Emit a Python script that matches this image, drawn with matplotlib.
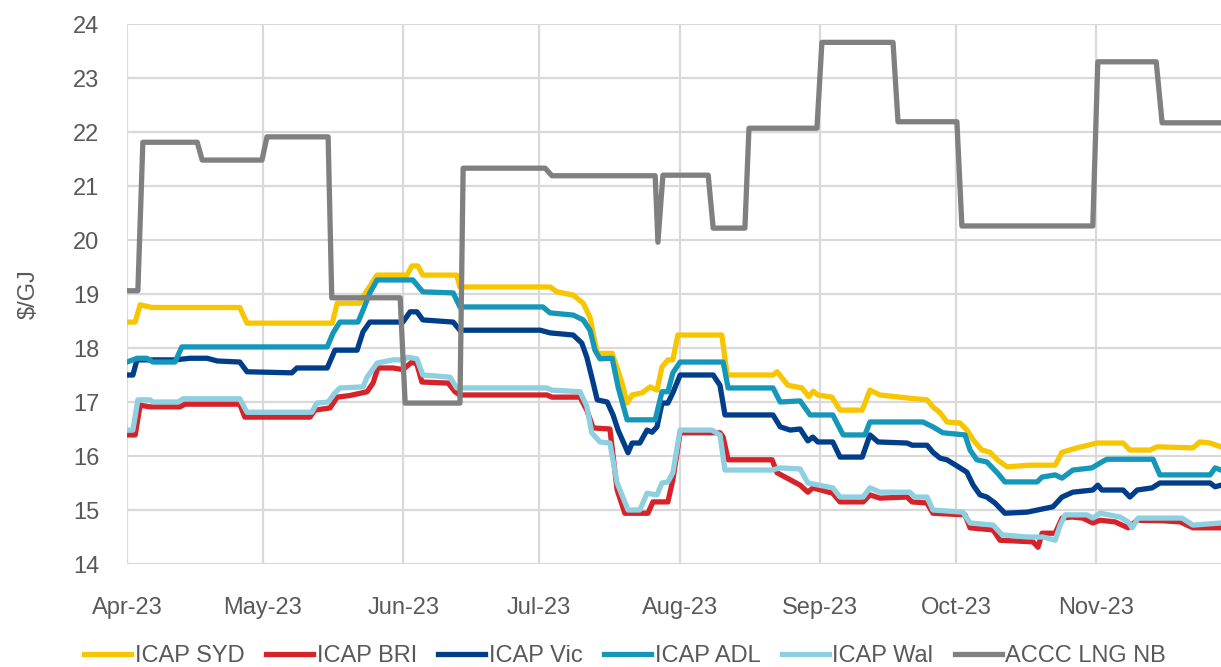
import matplotlib
matplotlib.use("Agg")
import matplotlib.pyplot as plt
import matplotlib.dates as mdates
import numpy as np
import pandas as pd

# %% Data (days since 1 Apr 2023, $/GJ)
START = pd.Timestamp("2023-04-01")

syd_days = [0, 1.8, 2.9, 5.5, 24.9, 26.5, 45.3, 46.4, 51.4, 52.5, 55.2, 61.8, 62.9, 64.2, 65.3,
            72.8, 73.5, 93.4, 94.9, 98.5, 100.7, 102.2, 103.8, 107.1, 109.3, 110.4, 111.5, 113.7,
            115.5, 117.0, 118.1, 119.4, 120.5, 121.6, 131.3, 132.5, 142.6, 143.5, 145.9, 149.0,
            150.5, 151.5, 152.5, 155.6, 157.4, 162.3, 164.0, 166.2, 172.8, 176.6, 177.9, 179.5,
            181.0, 183.9, 185.4, 186.8, 188.7, 190.5, 192.1, 194.3, 199.3, 204.9, 206.4, 209.7,
            214.1, 219.9, 221.4, 225.8, 227.4, 235.3, 236.8, 239.1, 241.5]
syd_vals = [18.48, 18.48, 18.8, 18.75, 18.75, 18.46, 18.46, 18.83, 18.83, 19.0, 19.35, 19.35, 19.52,
            19.52, 19.35, 19.35, 19.13, 19.13, 19.04, 18.98, 18.83, 18.57, 17.9, 17.9, 17.35, 16.98,
            17.13, 17.17, 17.28, 17.22, 17.65, 17.78, 17.78, 18.24, 18.24, 17.5, 17.5, 17.56, 17.31,
            17.26, 17.1, 17.2, 17.13, 17.09, 16.85, 16.85, 17.22, 17.13, 17.07, 17.04, 16.91, 16.8,
            16.63, 16.61, 16.48, 16.3, 16.11, 16.07, 15.93, 15.8, 15.83, 15.83, 16.07, 16.15, 16.24,
            16.24, 16.11, 16.11, 16.17, 16.15, 16.26, 16.24, 16.17]

bri_days = [0, 1.8, 2.9, 5.1, 11.7, 12.8, 24.9, 26.0, 40.4, 41.5, 44.8, 46.4, 49.2, 53.0, 54.3,
            55.4, 58.7, 60.9, 62.9, 64.0, 65.1, 70.9, 72.4, 73.5, 92.7, 93.8, 100.0, 101.5, 102.9,
            106.6, 108.2, 109.9, 115.0, 116.1, 119.4, 120.5, 122.1, 130.9, 131.6, 132.7, 142.4,
            143.5, 148.6, 150.3, 151.4, 155.8, 157.4, 162.5, 164.0, 166.2, 172.2, 173.3, 176.6,
            177.9, 185.0, 186.1, 191.2, 192.7, 200.0, 201.1, 202.0, 204.9, 206.4, 208.6, 211.0,
            213.2, 214.8, 218.1, 221.0, 223.0, 228.7, 232.5, 235.3, 241.5]
bri_vals = [16.39, 16.39, 16.94, 16.91, 16.91, 16.96, 16.96, 16.72, 16.72, 16.85, 16.89, 17.09,
            17.12, 17.19, 17.35, 17.63, 17.63, 17.6, 17.74, 17.7, 17.37, 17.35, 17.19, 17.13, 17.13,
            17.09, 17.09, 16.85, 16.52, 16.5, 15.37, 14.94, 14.94, 15.15, 15.15, 15.56, 16.43, 16.43,
            16.35, 15.93, 15.93, 15.69, 15.46, 15.33, 15.41, 15.31, 15.15, 15.15, 15.28, 15.22,
            15.24, 15.15, 15.13, 14.94, 14.91, 14.67, 14.63, 14.44, 14.41, 14.31, 14.57, 14.57,
            14.85, 14.87, 14.85, 14.76, 14.81, 14.78, 14.67, 14.81, 14.8, 14.78, 14.67, 14.67]

vic_days = [0, 1.3, 2.2, 10.6, 13.9, 17.7, 19.9, 24.9, 26.5, 36.4, 37.5, 44.2, 45.9, 50.8, 52.1,
            53.6, 60.9, 62.5, 64.0, 65.3, 72.0, 73.5, 91.2, 93.4, 98.5, 100.4, 101.5, 102.6, 103.8,
            106.0, 107.3, 108.4, 110.6, 111.5, 113.2, 114.8, 115.9, 117.0, 118.1, 119.4, 120.5,
            122.1, 129.4, 130.9, 132.0, 142.6, 144.2, 146.4, 148.6, 150.3, 151.4, 152.5, 155.8,
            157.4, 162.3, 164.0, 165.8, 172.2, 173.3, 176.6, 177.9, 179.5, 181.0, 183.9, 185.4,
            186.8, 188.3, 189.8, 191.6, 193.8, 198.7, 204.4, 206.4, 208.8, 213.2, 214.3, 215.2,
            219.9, 221.4, 223.0, 226.3, 228.0, 239.1, 240.2, 241.5]
vic_vals = [17.5, 17.5, 17.78, 17.78, 17.81, 17.81, 17.76, 17.74, 17.56, 17.54, 17.63, 17.63, 17.96,
            17.96, 18.3, 18.48, 18.48, 18.67, 18.67, 18.52, 18.48, 18.33, 18.33, 18.28, 18.24, 18.09,
            17.83, 17.46, 17.04, 17.0, 16.76, 16.48, 16.06, 16.24, 16.24, 16.48, 16.44, 16.54, 16.98,
            16.98, 17.17, 17.5, 17.5, 17.31, 16.76, 16.76, 16.54, 16.48, 16.5, 16.28, 16.35, 16.26,
            16.26, 15.98, 15.98, 16.39, 16.26, 16.24, 16.2, 16.2, 16.07, 15.96, 15.93, 15.78, 15.7,
            15.46, 15.28, 15.24, 15.13, 14.94, 14.96, 15.06, 15.24, 15.33, 15.37, 15.46, 15.37, 15.37,
            15.24, 15.37, 15.41, 15.5, 15.5, 15.43, 15.46]

adl_days = [0, 2.2, 4.4, 5.7, 10.6, 12.1, 44.2, 45.5, 47.0, 51.0, 52.1, 53.6, 55.2, 63.1, 65.3,
            72.0, 73.5, 91.8, 93.4, 98.5, 100.7, 102.2, 103.3, 104.4, 107.1, 108.4, 110.4, 116.6,
            118.1, 119.4, 120.5, 122.1, 131.6, 132.7, 142.6, 144.2, 148.6, 150.8, 155.8, 158.1,
            162.9, 164.0, 175.7, 177.9, 180.1, 185.0, 186.1, 187.6, 189.8, 192.1, 193.8, 200.9,
            202.0, 204.9, 206.4, 208.8, 213.0, 215.2, 216.3, 226.5, 228.0, 239.1, 240.2, 241.5]
adl_vals = [17.74, 17.81, 17.81, 17.74, 17.74, 18.02, 18.02, 18.28, 18.48, 18.48, 18.7, 19.02, 19.26,
            19.26, 19.04, 19.02, 18.76, 18.76, 18.65, 18.61, 18.52, 18.33, 17.96, 17.8, 17.81, 17.28,
            16.67, 16.67, 17.19, 17.19, 17.54, 17.74, 17.74, 17.26, 17.26, 17.0, 17.02, 16.76, 16.76,
            16.39, 16.39, 16.63, 16.63, 16.54, 16.43, 16.39, 16.11, 15.93, 15.89, 15.69, 15.52,
            15.52, 15.61, 15.65, 15.59, 15.74, 15.78, 15.89, 15.94, 15.94, 15.65, 15.65, 15.78, 15.74]

wal_days = [0, 1.3, 2.4, 5.1, 5.7, 11.3, 12.4, 24.9, 26.5, 40.8, 41.9, 44.4, 45.9, 47.0, 52.1,
            53.0, 55.2, 58.7, 60.9, 62.0, 64.0, 65.3, 71.3, 72.8, 92.7, 93.8, 100.0, 101.5, 102.6,
            104.4, 106.6, 108.2, 110.6, 113.2, 114.8, 117.0, 118.1, 119.4, 120.5, 122.1, 129.1,
            130.9, 132.0, 142.4, 144.2, 148.6, 150.3, 155.8, 157.4, 162.5, 164.0, 166.2, 172.8,
            173.9, 176.6, 177.9, 184.5, 186.1, 191.2, 193.2, 198.7, 202.2, 204.9, 206.0, 207.1,
            211.9, 213.2, 214.8, 219.2, 221.0, 221.9, 223.2, 232.9, 235.3, 241.5]
wal_vals = [16.48, 16.48, 17.04, 17.04, 17.0, 17.0, 17.06, 17.06, 16.81, 16.81, 16.98, 17.0, 17.17,
            17.26, 17.28, 17.46, 17.72, 17.78, 17.78, 17.83, 17.8, 17.5, 17.46, 17.26, 17.26, 17.22,
            17.19, 16.92, 16.43, 16.26, 16.24, 15.5, 15.0, 15.0, 15.31, 15.28, 15.5, 15.52, 15.69,
            16.48, 16.48, 16.39, 15.74, 15.74, 15.78, 15.76, 15.5, 15.41, 15.24, 15.24, 15.41, 15.33,
            15.33, 15.24, 15.24, 15.0, 14.96, 14.76, 14.72, 14.54, 14.5, 14.5, 14.44, 14.72, 14.91,
            14.91, 14.85, 14.94, 14.87, 14.78, 14.67, 14.85, 14.85, 14.72, 14.76]

lng_days = [0, 2.4, 3.5, 15.5, 16.6, 29.8, 30.9, 44.4, 45.2, 60.3, 61.4, 73.5, 74.2, 92.3, 93.8,
            116.6, 117.2, 118.3, 128.3, 129.4, 136.4, 137.3, 152.3, 153.4, 169.1, 170.2, 183.2,
            184.3, 213.2, 214.3, 227.2, 228.5, 241.5]
lng_vals = [19.06, 19.06, 21.81, 21.81, 21.48, 21.48, 21.91, 21.91, 18.93, 18.93, 16.98, 16.98,
            21.33, 21.33, 21.19, 21.19, 19.96, 21.2, 21.2, 20.22, 20.22, 22.07, 22.07, 23.66, 23.66,
            22.19, 22.19, 20.26, 20.26, 23.30, 23.30, 22.17, 22.17]

labels = ["ICAP SYD", "ICAP BRI", "ICAP Vic", "ICAP ADL", "ICAP Wal", "ACCC LNG NB"]
series = [(syd_days, syd_vals), (bri_days, bri_vals), (vic_days, vic_vals),
          (adl_days, adl_vals), (wal_days, wal_vals), (lng_days, lng_vals)]

# %% Style
COLORS = ["#f7c600", "#d7222a", "#003e8a", "#1597b9", "#8ecfe0", "#808080"]
TEXT_COLOR = "#595959"
GRID_COLOR = "#d9d9d9"

plt.rcParams.update({
    "font.family": ["Liberation Sans", "DejaVu Sans"],
    "font.size": 17,
})

fig = plt.figure(figsize=(12.21, 6.67), dpi=100)
ax = fig.add_axes([127 / 1221, 1 - 564 / 667, 1 - 127 / 1221, 540 / 667])

for (d, v), lab, col in zip(series, labels, COLORS):
    x = START + pd.to_timedelta(np.array(d), unit="D")
    ax.plot(x, v, color=col, lw=3.8, label=lab, solid_joinstyle="round")

ax.set_xlim(START, START + pd.Timedelta(days=241.5))
ax.set_ylim(14, 24)
ax.set_yticks(np.arange(14, 25, 1))
ax.set_xticks(pd.date_range("2023-04-01", "2023-11-01", freq="MS"))
ax.xaxis.set_major_formatter(mdates.DateFormatter("%b-%y"))

ax.grid(True, color=GRID_COLOR, lw=1.6)
ax.set_axisbelow(True)
for s in ax.spines.values():
    s.set_visible(False)
ax.tick_params(length=0, colors=TEXT_COLOR, labelsize=17)
ax.tick_params(axis="x", pad=24)
ax.tick_params(axis="y", pad=20)
ax.set_ylabel("$/GJ", color=TEXT_COLOR, fontsize=17, labelpad=24)

fig.legend(loc="center", bbox_to_anchor=(0.512, 0.016), ncol=6, frameon=False,
           handlelength=2.0, handletextpad=0.15, columnspacing=0.9, labelcolor=TEXT_COLOR,
           fontsize=17)

fig.savefig("out.png", dpi=100)
